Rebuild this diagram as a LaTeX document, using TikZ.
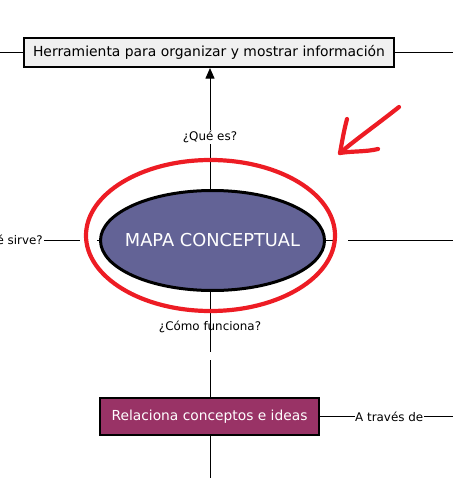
\documentclass[tikz,border=0pt]{standalone}
\usepackage{fontspec}
\setmainfont{DejaVu Sans}
\usetikzlibrary{arrows.meta,shapes.geometric}
\definecolor{boxgrey}{RGB}{240,240,240}
\definecolor{mapfill}{RGB}{99,99,150}
\definecolor{paintred}{RGB}{237,28,36}
\definecolor{relfill}{RGB}{153,51,102}
\tikzset{
  conn/.style={line width=0.8pt, black},
  qlabel/.style={font=\fontsize{11.9}{14}\selectfont, inner sep=1pt},
  boxnode/.style={draw=black, line width=1.6pt, inner sep=0pt, anchor=center},
  redmark/.style={draw=paintred, line width=4.2pt, line cap=round, line join=round}
}
\begin{document}
\begin{tikzpicture}[x=1pt,y=-1pt]
\useasboundingbox (0,0) rectangle (453,478);
% nodes
\node[boxnode, fill=boxgrey, minimum width=370pt, minimum height=29.5pt,
      font=\fontsize{13.9}{16}\selectfont] (top) at (209,52.5)
      {Herramienta para organizar y mostrar información};
\node[boxnode, ellipse, fill=mapfill, line width=3pt, minimum width=224pt, minimum height=100pt,
      text=white, font=\fontsize{17.8}{20}\selectfont] (map) at (212.5,240.5)
      {\makebox[0pt]{MAPA CONCEPTUAL}};
\node[boxnode, fill=relfill, minimum width=219.5pt, minimum height=37.5pt,
      text=white, font=\fontsize{13.8}{16}\selectfont] (rel) at (209.5,416.5)
      {Relaciona conceptos e ideas};
\node[qlabel, fill=white] (que) at (210,137) {¿Qué es?};
\node[qlabel, anchor=east] (sirve) at (44,240.5) {¿Para qué sirve?};
\node[qlabel, anchor=west, inner sep=0.5pt] (traves) at (354.5,416.5) {A través de};
% free ends
\coordinate (tl) at (0,52.5);
\coordinate (tr) at (453,52.5);
\coordinate (la) at (80,240.5);
\coordinate (lb) at (97,240.5);
\coordinate (ra) at (337,240.5);
\coordinate (rb) at (348,240.5);
\coordinate (rr) at (453,240.5);
\coordinate (ba) at (210,352);
\coordinate (bb) at (210,360);
\coordinate (bend) at (210,478);
\coordinate (tre) at (453,416.5);
% connectors
\draw[conn] (top.west) -- (tl);
\draw[conn] (top.east) -- (tr);
\draw[conn] (que.south) -- (que.south |- map.north);
\draw[conn, -{Triangle[width=9pt,length=10.5pt]}] (que.north) -- (que.north |- top.south);
\draw[conn] (sirve.east) -- (la);
\draw[conn] (lb) -- (map.west);
\draw[conn] (map.east) -- (ra);
\draw[conn] (rb) -- (rr);
\draw[conn] (ba |- map.south) -- (ba);
\draw[conn] (bb) -- (bb |- rel.north);
\draw[conn] (bend |- rel.south) -- (bend);
\draw[conn] (rel.east) -- (traves.west);
\draw[conn] (traves.east) -- (tre);
\node[qlabel] (como) at (210,327) {¿Cómo funciona?};
% hand-drawn red highlight
\draw[redmark] (210.5,235.5) ellipse [x radius=124.5, y radius=75.5];
\draw[redmark] (399,107) .. controls (375,126) and (355,140) .. (340,153);
\draw[redmark] (347,119) .. controls (344,130) and (342,142) .. (340,153);
\draw[redmark] (340,153) .. controls (352,151) and (366,152) .. (378,149);
\end{tikzpicture}
\end{document}
